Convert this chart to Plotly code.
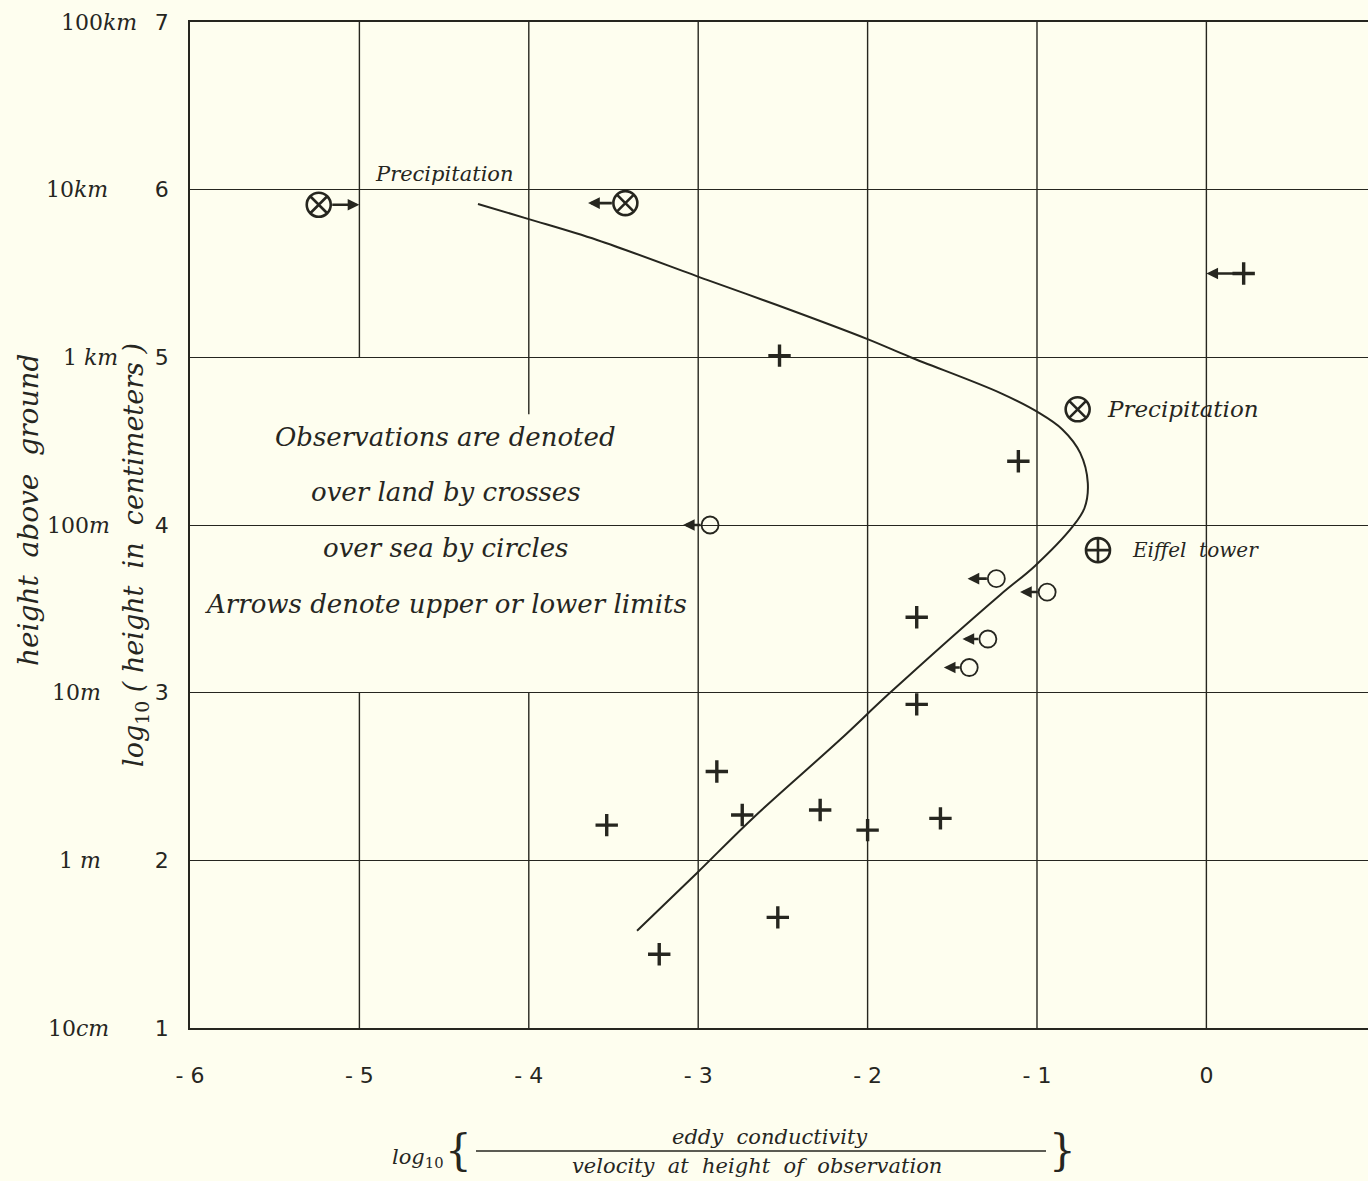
import plotly.graph_objects as go

# ---------------- data ----------------
land_x = [-2.52, -1.11, -1.71, -1.71, -2.89, -2.74, -2.28, -2.00, -1.57, -3.54, -2.53, -3.23, 0.22]
land_y = [5.01, 4.38, 3.45, 2.93, 2.53, 2.27, 2.30, 2.18, 2.25, 2.21, 1.66, 1.44, 5.50]

sea_x = [-2.93, -1.24, -0.94, -1.29, -1.40]
sea_y = [4.00, 3.68, 3.60, 3.32, 3.15]
sea_limit_x = [-3.09, -1.41, -1.10, -1.44, -1.55]

precip_x = [-5.24, -3.43, -0.76]
precip_y = [5.91, 5.92, 4.69]
precip_limit_x = [-5.00, -3.65, None]

eiffel_x = [-0.64]
eiffel_y = [3.85]

land_limit_idx = 12      # the far-right cross has a limit arrow
land_limit_x = 0.0

curve_x = [-4.30, -4.005, -3.597, -2.948, -2.535, -2.004, -1.750, -1.218, -0.990, -0.850,
           -0.745, -0.700, -0.720, -0.790, -1.012, -1.218, -1.868, -2.163, -2.676, -3.007, -3.361]
curve_y = [5.915, 5.826, 5.700, 5.462, 5.312, 5.110, 5.002, 4.788, 4.670, 4.570,
           4.430, 4.250, 4.100, 3.990, 3.756, 3.583, 2.999, 2.719, 2.253, 1.925, 1.580]

x_ticks = [-6, -5, -4, -3, -2, -1, 0]
x_ticktext = ["- 6", "- 5", "- 4", "- 3", "- 2", "- 1", "0"]
y_ticks = [1, 2, 3, 4, 5, 6, 7]
y_ticktext = ["1", "2", "3", "4", "5", "6", "7"]
height_labels = ["10<i>cm</i>", "1 <i>m</i>", "10<i>m</i>", "100<i>m</i>", "1 <i>km</i>", "10<i>km</i>", "100<i>km</i>"]

# vertical grid segments (x, y0, y1)
vgrid = [(-5, 5, 7), (-5, 1, 3), (-4, 4.66, 7), (-4, 1, 3),
         (-3, 1, 7), (-2, 1, 7), (-1, 1, 7), (0, 1, 7)]

notes = ["Observations are denoted", "over land by crosses",
         "over sea by circles", "Arrows denote upper or lower limits"]
notes_y = [4.525, 4.197, 3.863, 3.530]

# ---------------- style ----------------
INK = "#26261f"
BG = "#fefeef"
SERIF = "DejaVu Serif, Liberation Serif, serif"
SANS = "DejaVu Sans, Liberation Sans, sans-serif"
W, H = 1368, 1181
L, R, T, B = 190, 0, 22, 153
PW, PH = W - L - R, H - T - B


def px_x(p):
    return (p - L) / PW


def px_y(p):
    return (H - B - p) / PH


height_label_px = [78, 80, 76, 78, 90, 77, 99]

fig = go.Figure()

fig.add_trace(go.Scatter(x=curve_x, y=curve_y, mode="lines",
                         line=dict(color=INK, width=2, shape="spline", smoothing=1.0),
                         hoverinfo="skip", showlegend=False))

fig.add_trace(go.Scatter(x=land_x, y=land_y, mode="markers",
                         marker=dict(symbol="cross-thin", size=16,
                                     line=dict(color=INK, width=3.4)),
                         showlegend=False))

fig.add_trace(go.Scatter(x=sea_x, y=sea_y, mode="markers",
                         marker=dict(symbol="circle-open", size=17, color=INK,
                                     line=dict(color=INK, width=1.8)),
                         showlegend=False))

fig.add_trace(go.Scatter(x=precip_x, y=precip_y, mode="markers",
                         marker=dict(symbol="circle-x-open", size=24, color=INK,
                                     line=dict(color=INK, width=2.6)),
                         showlegend=False))

fig.add_trace(go.Scatter(x=eiffel_x, y=eiffel_y, mode="markers",
                         marker=dict(symbol="circle-cross-open", size=24, color=INK,
                                     line=dict(color=INK, width=2.6)),
                         showlegend=False))

# grid verticals
for gx, y0, y1 in vgrid:
    fig.add_shape(type="line", x0=gx, x1=gx, y0=y0, y1=y1, xref="x", yref="y",
                  line=dict(color=INK, width=1.4), layer="below")


# limit arrows
def arrow(x_tip, y, x_tail, start):
    fig.add_annotation(x=x_tip, y=y, ax=x_tail, ay=y, xref="x", yref="y",
                       axref="x", ayref="y", text="", showarrow=True,
                       arrowhead=2, arrowsize=0.9, arrowwidth=2.6,
                       arrowcolor=INK, startstandoff=start, standoff=0)


for sx, sy, lx in zip(sea_x, sea_y, sea_limit_x):
    arrow(lx, sy, sx, 8)
for pxv, pyv, lx in zip(precip_x, precip_y, precip_limit_x):
    if lx is not None:
        arrow(lx, pyv, pxv, 12)
arrow(land_limit_x, land_y[land_limit_idx], land_x[land_limit_idx], 0)

# text labels in the plot
fig.add_annotation(x=-4.50, y=6.0, text="<i>Precipitation</i>", showarrow=False,
                   xanchor="center", yanchor="bottom", yshift=2,
                   font=dict(family=SERIF, size=21, color=INK))
fig.add_annotation(x=-0.60, y=4.69, text="<i>Precipitation</i>", showarrow=False,
                   xanchor="left", yanchor="middle",
                   font=dict(family=SERIF, size=23, color=INK))
fig.add_annotation(x=-0.45, y=3.85, text="<i>Eiffel  tower</i>", showarrow=False,
                   xanchor="left", yanchor="middle",
                   font=dict(family=SERIF, size=20, color=INK))
for t, ny in zip(notes, notes_y):
    fig.add_annotation(x=-4.49, y=ny, text="<i>" + t + "</i>", showarrow=False,
                       xanchor="center", yanchor="middle",
                       font=dict(family=SERIF, size=26, color=INK))

# height labels (left column)
for v, lab, lp in zip(y_ticks, height_labels, height_label_px):
    fig.add_annotation(x=px_x(lp), xref="paper", y=v, yref="y", text=lab,
                       xanchor="center", yanchor="middle",
                       showarrow=False, font=dict(family=SERIF, size=22, color=INK))

# y-axis titles
fig.add_annotation(x=px_x(28), xref="paper", y=px_y(510), yref="paper",
                   xanchor="center", yanchor="middle",
                   text="<i>height  above  ground</i>", textangle=-90, showarrow=False,
                   font=dict(family=SERIF, size=28, color=INK))
fig.add_annotation(x=px_x(135), xref="paper", y=px_y(555), yref="paper",
                   xanchor="center", yanchor="middle",
                   text="<i>log</i><sub>10</sub><i> ( height  in  centimeters )</i>",
                   textangle=-90, showarrow=False,
                   font=dict(family=SERIF, size=27, color=INK))

# x-axis title (fraction)
fig.add_annotation(x=px_x(418), xref="paper", y=px_y(1158), yref="paper",
                   xanchor="center", yanchor="middle",
                   text="<i>log</i><sub>10</sub>", showarrow=False,
                   font=dict(family=SERIF, size=21, color=INK))
fig.add_annotation(x=px_x(458), xref="paper", y=px_y(1150), yref="paper",
                   xanchor="center", yanchor="middle",
                   text="{", showarrow=False, font=dict(family=SERIF, size=42, color=INK))
fig.add_annotation(x=px_x(1062), xref="paper", y=px_y(1150), yref="paper",
                   xanchor="center", yanchor="middle",
                   text="}", showarrow=False, font=dict(family=SERIF, size=42, color=INK))
fig.add_annotation(x=px_x(770), xref="paper", y=px_y(1137), yref="paper",
                   xanchor="center", yanchor="middle",
                   text="<i>eddy  conductivity</i>", showarrow=False,
                   font=dict(family=SERIF, size=21, color=INK))
fig.add_annotation(x=px_x(757), xref="paper", y=px_y(1166), yref="paper",
                   xanchor="center", yanchor="middle",
                   text="<i>velocity  at  height  of  observation</i>", showarrow=False,
                   font=dict(family=SERIF, size=21, color=INK))
fig.add_shape(type="line", xref="paper", yref="paper",
              x0=px_x(476), x1=px_x(1046), y0=px_y(1151), y1=px_y(1151),
              line=dict(color=INK, width=1.6))

fig.update_layout(
    width=W, height=H,
    margin=dict(l=L, r=R, t=T, b=B),
    paper_bgcolor=BG, plot_bgcolor=BG,
    showlegend=False,
    xaxis=dict(range=[-6, 0.954], tickvals=x_ticks, ticktext=x_ticktext,
               showgrid=False, zeroline=False, showline=True, mirror=True,
               linecolor=INK, linewidth=1.6, ticks="",
               ticklabelstandoff=27,
               tickfont=dict(family=SANS, size=22, color=INK)),
    yaxis=dict(range=[1, 7], tickvals=y_ticks, ticktext=y_ticktext,
               showgrid=True, gridcolor=INK, gridwidth=1.4, zeroline=False,
               showline=True, mirror=False, linecolor=INK, linewidth=1.6, ticks="",
               ticklabelstandoff=15,
               tickfont=dict(family=SANS, size=22, color=INK)),
)

fig.write_html("out.html",
               config={"displayModeBar": False},
               post_script="document.body.style.margin='0';"
                           "document.body.style.background='" + BG + "';")
